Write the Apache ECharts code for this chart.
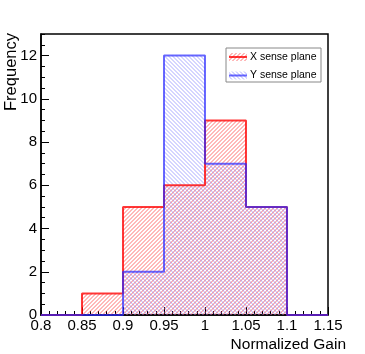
<!DOCTYPE html>
<html>
<head>
<meta charset="utf-8">
<script src="https://cdn.jsdelivr.net/npm/echarts@6/dist/echarts.min.js"></script>
<style>html,body{margin:0;padding:0;background:#fff}#chart{width:365px;height:354px}</style>
</head>
<body>
<div id="chart"></div>
<script>
// histogram bins (edges) and counts per bin
var binEdges = [0.8, 0.85, 0.9, 0.95, 1.0, 1.05, 1.1, 1.15]
var xPlaneCounts = [0, 1, 5, 6, 9, 5, 0]
var yPlaneCounts = [0, 0, 2, 12, 7, 5, 0]
var seriesNames = ['X sense plane', 'Y sense plane']

var FONT = 'Liberation Sans, Arial, Helvetica, sans-serif'
var lineColors = ['rgba(255,0,0,0.78)', 'rgba(40,40,255,0.7)']

// ROOT style hatch fill: dir 1 -> '/', dir -1 -> '\'
function hatch (color, dir) {
  var c = document.createElement('canvas')
  c.width = 4
  c.height = 4
  var ctx = c.getContext('2d')
  ctx.fillStyle = color
  for (var x = 0; x < 4; x++) {
    for (var y = 0; y < 4; y++) {
      var k = dir > 0 ? (x + y) % 4 : (x - y + 4) % 4
      if (k < 2) ctx.fillRect(x, y, 1, 1)
    }
  }
  return { image: c, repeat: 'repeat' }
}
var fills = [hatch('rgba(255,70,70,0.38)', 1), hatch('rgba(100,100,255,0.27)', -1)]

function steps (counts) {
  var d = counts.map(function (v, i) { return [binEdges[i], v] })
  d.push([binEdges[binEdges.length - 1], 0])
  return d
}

var chart = echarts.init(document.getElementById('chart'))

function histSeries (i, counts) {
  return {
    name: seriesNames[i],
    type: 'line',
    step: 'end',
    symbol: 'none',
    clip: false,
    data: steps(counts),
    lineStyle: { color: lineColors[i], width: 2 },
    areaStyle: { color: fills[i], opacity: 1 },
    z: 3
  }
}

var graphics = [{
  // y axis title, reads bottom to top, top aligned with the frame
  type: 'text',
  x: 11,
  y: 33,
  rotation: Math.PI / 2,
  style: { text: 'Frequency', font: '16.5px ' + FONT, fill: '#000', align: 'right', verticalAlign: 'middle' }
}, {
  type: 'rect',
  shape: { x: 226, y: 48, width: 95, height: 34 },
  style: { fill: '#fff', stroke: '#888', lineWidth: 1 },
  z: 10
}]
seriesNames.forEach(function (name, i) {
  var yc = 57 + i * 18.5
  graphics.push({ type: 'rect', shape: { x: 229, y: yc - 4, width: 18, height: 8 }, style: { fill: fills[i] }, z: 11 })
  graphics.push({ type: 'line', shape: { x1: 229, y1: yc, x2: 247, y2: yc }, style: { stroke: lineColors[i], lineWidth: 2 }, z: 12 })
  graphics.push({ type: 'text', x: 250, y: yc, style: { text: name, font: '10.5px ' + FONT, fill: '#000', verticalAlign: 'middle' }, z: 12 })
})

var option = {
  animation: false,
  grid: {
    left: 41, right: 37, top: 34, bottom: 39,
    outerBoundsMode: 'none',
    containLabel: false,
    show: true, borderColor: '#000', borderWidth: 1.5, backgroundColor: 'transparent'
  },
  xAxis: {
    type: 'value',
    min: 0.8,
    max: 1.15,
    interval: 0.05,
    name: 'Normalized Gain',
    nameLocation: 'end',
    nameGap: 18,
    nameTextStyle: { fontFamily: FONT, fontSize: 15.5, color: '#000', align: 'right', verticalAlign: 'top', padding: [22, 0, 0, 0] },
    axisLine: { lineStyle: { color: '#000', width: 1.5 } },
    axisTick: { inside: true, length: 8, lineStyle: { color: '#000' } },
    minorTick: { show: true, splitNumber: 5, length: 4, lineStyle: { color: '#000' } },
    axisLabel: { fontFamily: FONT, fontSize: 15, color: '#000', margin: 3 },
    splitLine: { show: false }
  },
  yAxis: [{
    type: 'value',
    min: 0,
    max: 13,
    interval: 2,
    axisLine: { lineStyle: { color: '#000', width: 1.5 } },
    axisTick: { inside: true, length: 8, lineStyle: { color: '#000' } },
    axisLabel: { fontFamily: FONT, fontSize: 15, color: '#000', margin: 4, showMaxLabel: false },
    splitLine: { show: false }
  }, {
    // minor ticks every 0.5
    type: 'value',
    min: 0,
    max: 13,
    interval: 0.5,
    position: 'left',
    axisLine: { show: false },
    axisTick: { inside: true, length: 4, lineStyle: { color: '#000' } },
    axisLabel: { show: false },
    splitLine: { show: false }
  }],
  series: [histSeries(0, xPlaneCounts), histSeries(1, yPlaneCounts)],
  graphic: graphics
}
chart.setOption(option)
</script>
</body>
</html>
